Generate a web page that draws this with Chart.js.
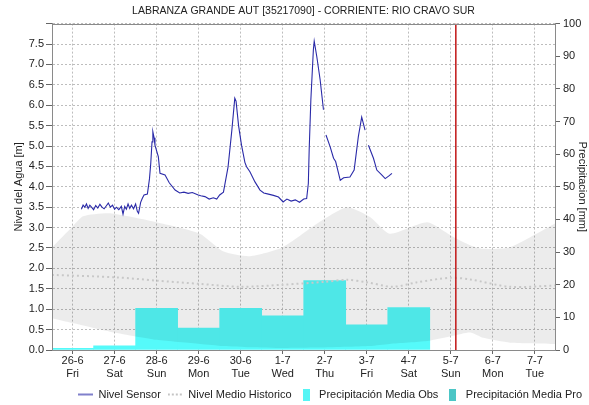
<!DOCTYPE html>
<html lang="es">
<head>
<meta charset="UTF-8" />
<title>Labranza Grande Aut</title>
<script src="https://cdn.jsdelivr.net/npm/chart.js@4"></script>
<style>
  html, body { margin: 0; padding: 0; background: #fff; }
  #wrap { width: 589px; height: 405px; }
</style>
</head>
<body>
<div id="wrap"><canvas id="nivel"></canvas></div>
<script>
// dias del eje x
const dayLabels = ["26-6", "27-6", "28-6", "29-6", "30-6", "1-7", "2-7", "3-7", "4-7", "5-7", "6-7", "7-7"];
const dayNames = ["Fri", "Sat", "Sun", "Mon", "Tue", "Wed", "Thu", "Fri", "Sat", "Sun", "Mon", "Tue"];

// precipitacion diaria [mm]
const precipObs = [0.5, 1.3, 12.8, 6.7, 12.8, 10.5, 21.3, 7.7, 13.0];
const precipPro = [];

// nivel del sensor: dia (0 = 26-6) y nivel [m], null = sin dato
const sensorDay = [0.21, 0.25, 0.29, 0.33, 0.37, 0.41, 0.45, 0.50, 0.55, 0.60, 0.65, 0.70, 0.75, 0.80, 0.85, 0.90, 0.95, 1.00, 1.04, 1.10,
  1.16, 1.20, 1.24, 1.28, 1.32, 1.36, 1.40, 1.45, 1.50, 1.54, 1.57, 1.62, 1.66, 1.70, 1.78, 1.83, 1.86, 1.89, 1.91, 1.94,
  1.96, 2.04, 2.08, 2.20, 2.30, 2.44, 2.55, 2.65, 2.75, 2.85, 2.99, 3.05, 3.15, 3.25, 3.35, 3.43, 3.50, 3.59, 3.70, 3.79,
  3.86, 3.89, 3.95, 4.02, 4.10, 4.14, 4.22, 4.34, 4.46, 4.55, 4.66, 4.78, 4.90, 5.01, 5.10, 5.20, 5.30, 5.40, 5.50, 5.57,
  5.61, 5.63, 5.67, 5.73, 5.75, 5.81, 5.89, 5.97, 6.00, 6.03, 6.13, 6.21, 6.26, 6.37, 6.45, 6.60, 6.70, 6.80, 6.88, 6.96,
  7.00, 7.04, 7.16, 7.24, 7.35, 7.44, 7.52, 7.60];
const sensorLevel = [3.45, 3.55, 3.50, 3.58, 3.47, 3.55, 3.50, 3.44, 3.54, 3.48, 3.57, 3.50, 3.46, 3.53, 3.60, 3.50, 3.55, 3.45, 3.50, 3.44,
  3.52, 3.33, 3.52, 3.45, 3.58, 3.47, 3.55, 3.46, 3.58, 3.40, 3.35, 3.62, 3.72, 3.80, 3.82, 4.20, 4.57, 5.10, 5.35, 5.20,
  5.02, 4.74, 4.33, 4.29, 4.10, 3.92, 3.85, 3.87, 3.84, 3.86, 3.80, 3.78, 3.76, 3.70, 3.73, 3.70, 3.80, 3.87, 4.49, 5.39,
  6.17, 6.10, 5.50, 5.02, 4.60, 4.49, 4.37, 4.12, 3.92, 3.85, 3.82, 3.79, 3.75, 3.63, 3.70, 3.65, 3.68, 3.62, 3.70, 3.71,
  4.08, 4.90, 6.13, 7.36, 7.57, 7.20, 6.63, 5.89, null, 5.27, 4.98, 4.70, 4.62, 4.16, 4.22, 4.24, 4.41, 5.23, 5.71, 5.39,
  null, 5.02, 4.70, 4.41, 4.30, 4.20, 4.26, 4.33];

// nivel medio historico [m]
const histDay = [-0.49, 1.05, 2.0, 3.03, 4.0, 5.0, 6.0, 6.53, 7.0, 7.62, 8.2, 8.98, 9.46, 10.41, 11.48];
const histMean = [1.84, 1.78, 1.70, 1.62, 1.55, 1.60, 1.67, 1.72, 1.66, 1.55, 1.66, 1.77, 1.73, 1.55, 1.58];

// banda historica (minimo / maximo) [m]
const bandDay = [-0.49, 0.0, 0.25, 0.89, 2.0, 3.03, 3.58, 4.22, 5.0, 5.82, 6.53, 7.08, 7.55, 8.44, 9.06, 9.46, 9.77, 10.41, 11.48];
const bandHigh = [2.52, 3.03, 3.28, 3.35, 3.13, 2.85, 2.42, 2.30, 2.52, 3.10, 3.50, 3.26, 2.85, 3.13, 2.77, 2.57, 2.48, 2.52, 3.10];
const bandLow = [0.78, 0.66, 0.60, 0.45, 0.25, 0.15, 0.10, 0.07, 0.05, 0.06, 0.08, 0.10, 0.15, 0.22, 0.35, 0.43, 0.30, 0.18, 0.15];

// momento actual
const nowDay = 9.12;

const pts = (xs, ys) => xs.map((x, i) => ({ x: x, y: ys[i] }));
const bars = vals => vals.map((v, i) => ({ x: i, y: v }));

function icon(w, h, draw) {
  const c = document.createElement('canvas');
  c.width = w; c.height = h;
  draw(c.getContext('2d'));
  return c;
}
const iconSensor = icon(15, 10, g => { g.strokeStyle = '#2a2aa8'; g.lineWidth = 1.2; g.beginPath(); g.moveTo(0, 5); g.lineTo(15, 5); g.stroke(); });
const iconHist = icon(15, 10, g => { g.strokeStyle = '#c4c4c4'; g.lineWidth = 2; g.setLineDash([2, 2]); g.beginPath(); g.moveTo(0, 5); g.lineTo(15, 5); g.stroke(); });
const iconObs = icon(7, 12, g => { g.fillStyle = '#55f5f5'; g.fillRect(0, 0, 7, 12); });
const iconPro = icon(7, 12, g => { g.fillStyle = '#4cc6c6'; g.fillRect(0, 0, 7, 12); });

Chart.defaults.font.family = '"Liberation Sans", Arial, sans-serif';
Chart.defaults.font.size = 11;
Chart.defaults.color = '#333';

// marco del area de datos
const frame = {
  id: 'frame',
  afterDatasetsDraw(chart) {
    const a = chart.chartArea, ctx = chart.ctx;
    ctx.save();
    ctx.strokeStyle = '#8a8a8a';
    ctx.lineWidth = 1;
    ctx.strokeRect(Math.round(a.left) + 0.5, Math.round(a.top) + 0.5, Math.round(a.right - a.left), Math.round(a.bottom - a.top));
    ctx.restore();
  }
};

new Chart(document.getElementById('nivel'), {
  data: {
    datasets: [
      {
        type: 'line', label: 'Nivel Sensor', data: pts(sensorDay, sensorLevel),
        borderColor: '#2a2aa8', borderWidth: 1.1, pointRadius: 0, tension: 0,
        pointStyle: iconSensor, yAxisID: 'y', order: 0
      },
      {
        type: 'line', label: 'Nivel Medio Historico', data: pts(histDay, histMean),
        borderColor: '#c8c8c8', borderWidth: 2, borderDash: [2, 3], pointRadius: 0, tension: 0.3,
        pointStyle: iconHist, yAxisID: 'y', order: 1
      },
      {
        type: 'bar', label: 'Precipitación Media Obs', data: bars(precipObs),
        backgroundColor: '#55fafa', barPercentage: 1, categoryPercentage: 1, grouped: false,
        pointStyle: iconObs, yAxisID: 'y2', order: 4
      },
      {
        type: 'bar', label: 'Precipitación Media Pro', data: bars(precipPro),
        backgroundColor: '#4cc6c6', barPercentage: 1, categoryPercentage: 1, grouped: false,
        pointStyle: iconPro, yAxisID: 'y2', order: 4
      },
      {
        type: 'line', label: '', data: pts(bandDay, bandHigh),
        borderWidth: 0, pointRadius: 0, tension: 0.2, fill: '+1',
        backgroundColor: 'rgba(0,0,0,0.075)', yAxisID: 'y', order: 3
      },
      {
        type: 'line', label: '', data: pts(bandDay, bandLow),
        borderWidth: 0, pointRadius: 0, tension: 0.2,
        yAxisID: 'y', order: 3
      },
      {
        type: 'line', label: '', data: [{ x: nowDay, y: 0 }, { x: nowDay, y: 8 }],
        borderColor: '#c01515', borderWidth: 1.5, pointRadius: 0,
        yAxisID: 'y', order: 0
      }
    ]
  },
  options: {
    animation: false,
    responsive: true,
    maintainAspectRatio: false,
    layout: { padding: { left: 8, right: 0, top: 0, bottom: -5 } },
    plugins: {
      title: {
        display: true,
        text: 'LABRANZA GRANDE AUT [35217090] - CORRIENTE: RIO CRAVO SUR',
        color: '#222', font: { size: 10.5, weight: 'normal' },
        padding: { top: 5, bottom: 6 }, fullSize: false
      },
      legend: {
        position: 'bottom', align: 'end',
        labels: {
          usePointStyle: true, pointStyleWidth: 15, boxHeight: 12, padding: 7, color: '#222',
          filter: item => item.text !== '',
          sort: (a, b) => a.datasetIndex - b.datasetIndex
        }
      },
      tooltip: { enabled: false }
    },
    scales: {
      x: {
        type: 'linear', min: -0.49, max: 11.48, offset: false,
        afterBuildTicks: s => { s.ticks = dayLabels.map((d, i) => ({ value: i })); },
        afterFit: s => { s.height = 32; },
        ticks: {
          autoSkip: false, maxRotation: 0, padding: 0, color: '#222',
          callback: v => [dayLabels[v], dayNames[v]]
        },
        grid: { offset: false, color: '#bdbdbd', tickLength: 4, tickColor: '#666' },
        border: { color: '#8a8a8a', dash: [2, 2] }
      },
      y: {
        position: 'left', min: 0, max: 8,
        afterFit: s => { s.width = 44; },
        ticks: {
          stepSize: 0.5, padding: 2, color: '#222',
          callback: v => v >= 8 ? '' : v.toFixed(1)
        },
        title: { display: true, text: 'Nivel del Agua [m]', color: '#222', padding: { top: 4, bottom: 0 } },
        grid: { color: '#bdbdbd', tickLength: 6, tickColor: '#666' },
        border: { color: '#8a8a8a', dash: [2, 2] }
      },
      y2: {
        position: 'right', min: 0, max: 100,
        afterFit: s => { s.width = 34; },
        ticks: { stepSize: 10, padding: 3, color: '#222' },
        title: { display: true, text: 'Precipitacion [mm]', color: '#222', padding: { top: 0, bottom: 0 } },
        grid: { drawOnChartArea: false, tickLength: 5, tickColor: '#666' },
        border: { color: '#8a8a8a' }
      }
    }
  },
  plugins: [frame]
});
</script>
</body>
</html>
